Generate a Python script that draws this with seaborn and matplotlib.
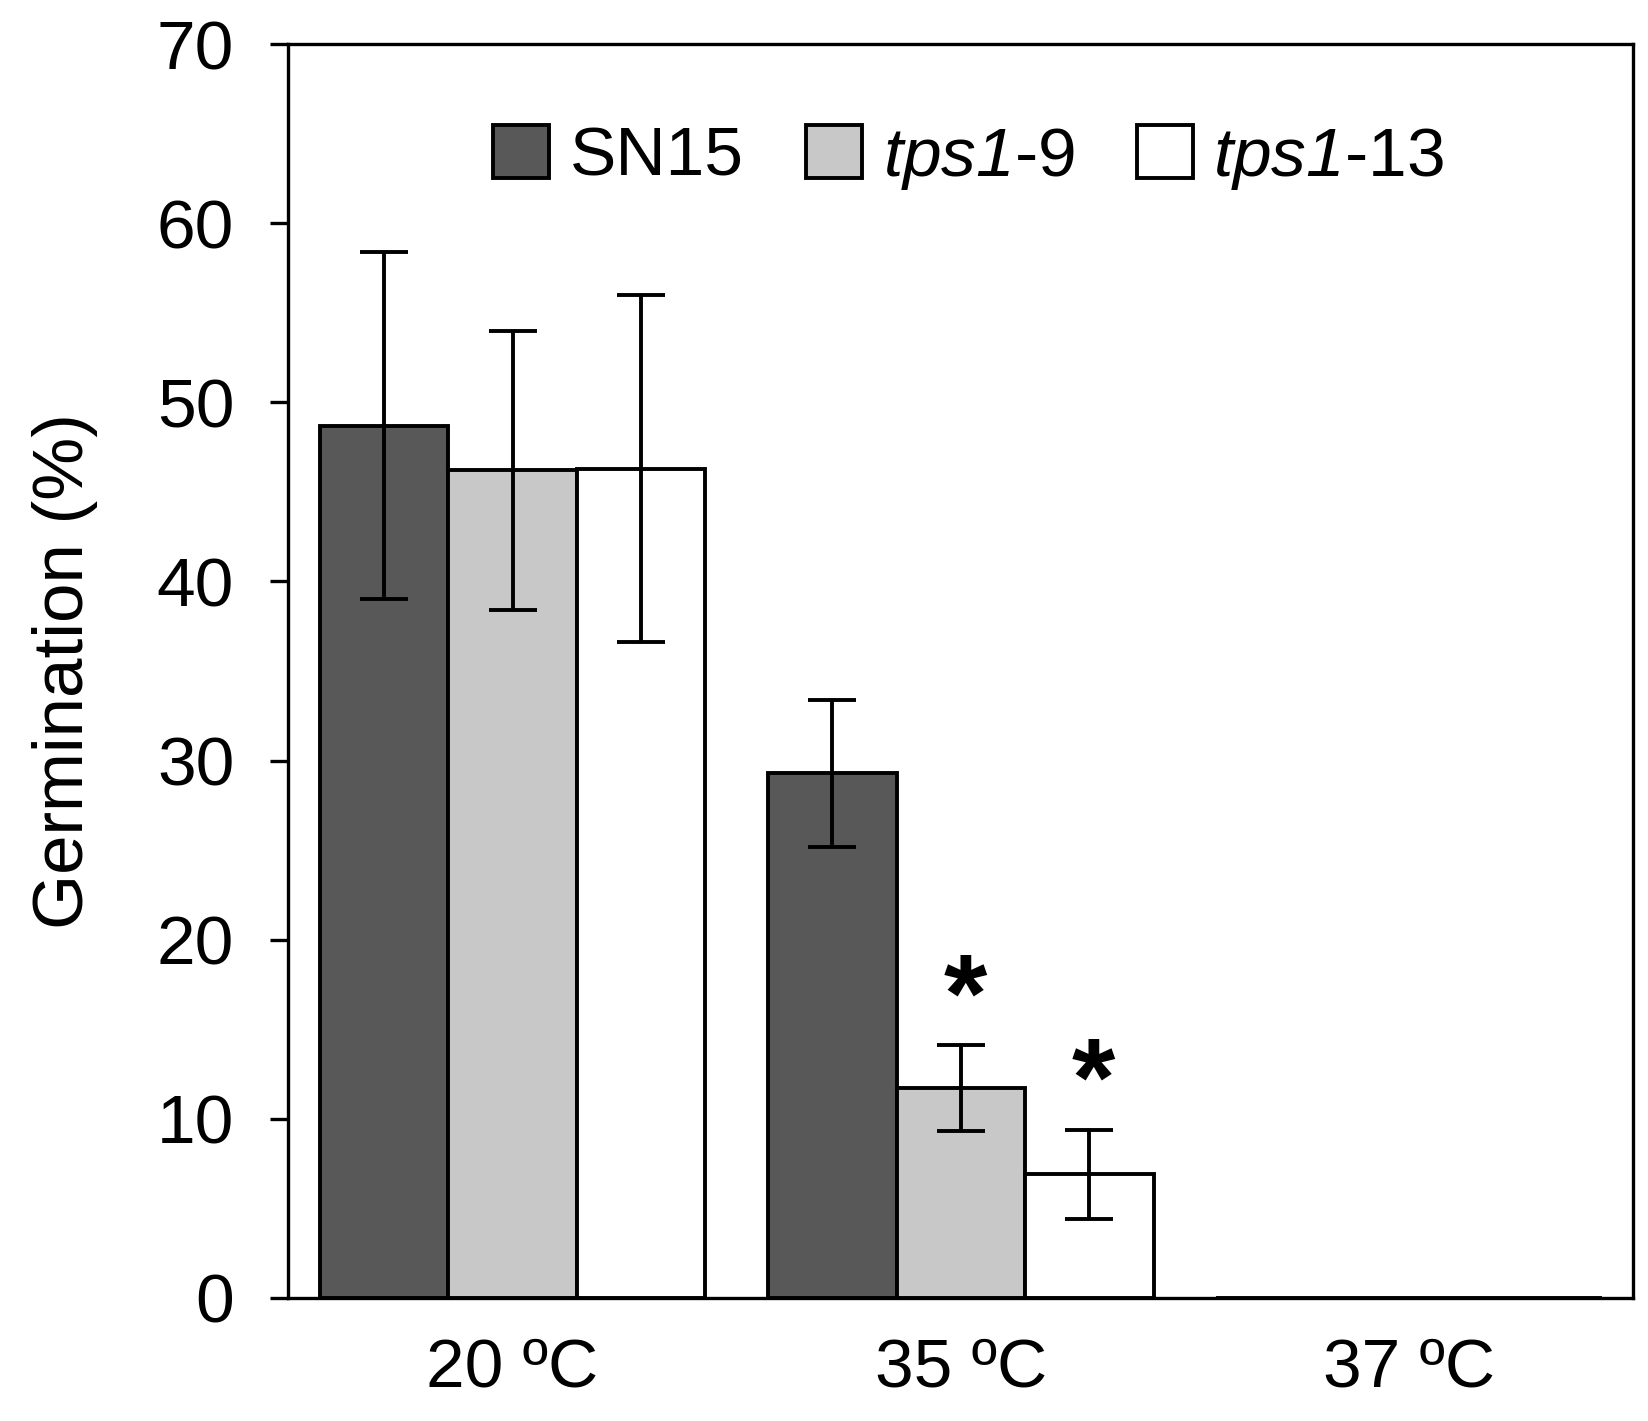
import matplotlib
matplotlib.use("Agg")
import matplotlib.pyplot as plt
from matplotlib.patches import Patch
import numpy as np
import pandas as pd
import seaborn as sns

temps = ["20 ºC", "35 ºC", "37 ºC"]
lines = ["SN15", "tps1-9", "tps1-13"]
legend_labels = ["SN15", r"$\mathsf{tps1}$-9", r"$\mathsf{tps1}$-13"]
germ_sn15 = [48.7, 29.3, 0.0]
germ_tps9 = [46.2, 11.7, 0.0]
germ_tps13 = [46.3, 6.9, 0.0]
err_sn15 = [9.7, 4.1, 0.0]
err_tps9 = [7.8, 2.4, 0.0]
err_tps13 = [9.7, 2.5, 0.0]
signif = [("35 ºC", "tps1-9"), ("35 ºC", "tps1-13")]

colors = {"SN15": "#585858", "tps1-9": "#c8c8c8", "tps1-13": "#ffffff"}

df = pd.DataFrame({
    "temp": temps * 3,
    "line": [l for l in lines for _ in temps],
    "germ": germ_sn15 + germ_tps9 + germ_tps13,
    "err": err_sn15 + err_tps9 + err_tps13,
})

sns.set_style("white")
plt.rcParams["font.family"] = ["Liberation Sans", "DejaVu Sans"]
plt.rcParams["mathtext.fontset"] = "custom"
plt.rcParams["mathtext.rm"] = "Liberation Sans"
# sf slot used for italic so digits stay italic too (it slot sends digits to rm)
plt.rcParams["mathtext.sf"] = "Liberation Sans:italic"
plt.rcParams["text.color"] = "black"
plt.rcParams["axes.labelcolor"] = "black"
plt.rcParams["xtick.color"] = "black"
plt.rcParams["ytick.color"] = "black"

LW = 2.8

fig = plt.figure(figsize=(16.48, 14.21), dpi=100)
ax = fig.add_axes([0.175, 0.0866, 0.816, 0.8824])

sns.barplot(data=df, x="temp", y="germ", hue="line", order=temps,
            hue_order=lines, palette=colors, width=0.86, gap=0,
            errorbar=None, edgecolor="black", linewidth=LW, ax=ax,
            legend=False)

# error bars and asterisks placed at the bar centres seaborn drew
for cont, line in zip(ax.containers, lines):
    sub = df[df["line"] == line].set_index("temp").loc[temps]
    for bar, t in zip(cont, temps):
        cx = bar.get_x() + bar.get_width() / 2
        m, e = sub.loc[t, "germ"], sub.loc[t, "err"]
        if e > 0:
            ax.errorbar(cx, m, yerr=e, color="black", elinewidth=LW,
                        capsize=17, capthick=LW, zorder=5)
        if (t, line) in signif:
            ax.text(cx + 0.01, m + e - 0.5, "*", ha="center", va="bottom",
                    fontsize=80, fontweight="bold")

ax.set_ylim(0, 70)
ax.set_xlim(-0.5, 2.5)
ax.set_yticks(np.arange(0, 71, 10))
ax.set_xticks([0, 1, 2])
ax.set_xticklabels(temps)
ax.set_xticks([-0.5, 0.5, 1.5, 2.5], minor=True)
ax.tick_params(axis="x", which="major", length=0, pad=28, labelsize=50)
ax.tick_params(axis="x", which="minor", length=18, width=2.4, direction="out")
ax.tick_params(axis="y", length=13, width=2.4, direction="out", pad=26,
               labelsize=50, left=True)
ax.set_xlabel("")
ax.set_ylabel("Germination (%)", fontsize=51, labelpad=42)
for s in ax.spines.values():
    s.set_visible(True)
    s.set_color("black")
    s.set_linewidth(2.4)

handles = [Patch(facecolor=colors[l], edgecolor="black", linewidth=LW) for l in lines]
ax.legend(handles, legend_labels, loc="center", bbox_to_anchor=(0.506, 0.909),
          ncol=3, frameon=False, fontsize=50, handlelength=0.8,
          handleheight=0.8, handletextpad=0.3, columnspacing=0.9)

fig.savefig("out.png", dpi=100)
